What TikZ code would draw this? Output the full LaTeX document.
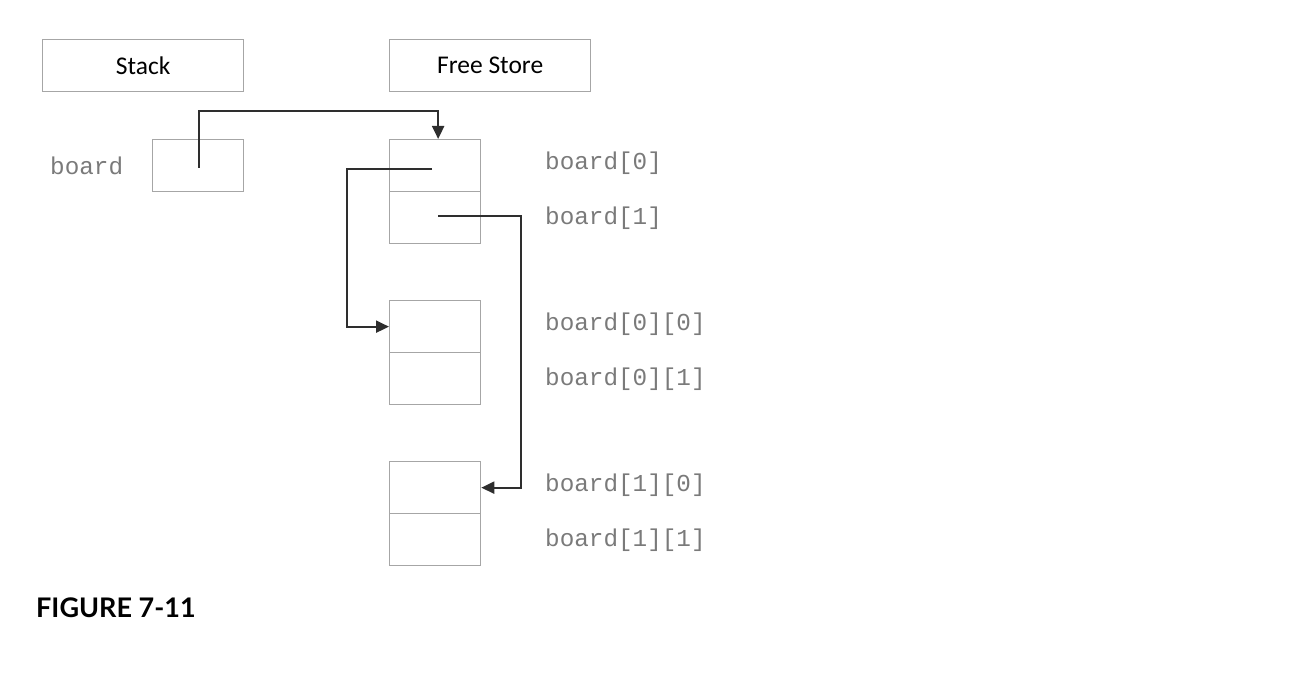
\documentclass[tikz,border=0pt]{standalone}
\usepackage{fontspec}
\setmainfont{Carlito}
\newfontfamily\monof{Liberation Mono}
\newfontfamily\figf{Lato}
\usetikzlibrary{arrows.meta}
\definecolor{boxgray}{HTML}{A6A6A6}
\definecolor{txtgray}{HTML}{7A7A7A}
\definecolor{arrgray}{HTML}{2E2E2E}
\begin{document}
\begin{tikzpicture}[x=1pt,y=-1pt,
  hdr/.style={draw=boxgray,line width=1.3pt,minimum width=201pt,minimum height=52pt,inner sep=0pt,anchor=north west,font=\fontsize{25.5}{25.5}\selectfont},
  cell/.style={draw=boxgray,line width=1.3pt,minimum width=91pt,minimum height=52pt,inner sep=0pt,anchor=north west},
  lbl/.style={anchor=west,inner sep=0pt,text=txtgray,font=\monof\fontsize{24.3}{24.3}\selectfont},
  ptr/.style={draw=arrgray,line width=2.1pt,-{Triangle[length=13pt,width=12pt]}}]
\useasboundingbox (0,0) rectangle (1293,674);
\node[hdr] (stack) at (42,39) {Stack};
\node[hdr] (free) at (389,39) {Free Store};
\node[lbl] (boardlbl) at (50,166) {board};
\node[cell] (boardbox) at (152,139) {};
\node[cell] (a0) at (389,139) {};
\node[cell] (a1) at (389,191) {};
\node[cell] (b00) at (389,300) {};
\node[cell] (b01) at (389,352) {};
\node[cell] (b10) at (389,461) {};
\node[cell] (b11) at (389,513) {};
\node[lbl] (la0) at (545,163) {board[0]};
\node[lbl] (la1) at (545,218) {board[1]};
\node[lbl] (lb00) at (545,324) {board[0][0]};
\node[lbl] (lb01) at (545,379) {board[0][1]};
\node[lbl] (lb10) at (545,485) {board[1][0]};
\node[lbl] (lb11) at (545,540) {board[1][1]};
\node[anchor=west,inner sep=0pt,font=\figf\bfseries\fontsize{27}{27}\selectfont] (fig) at (36,608) {FIGURE 7-11};
\coordinate (top) at (0,111);
\coordinate (lft) at (347,0);
\coordinate (rgt) at (521,0);
\draw[ptr] ([xshift=1pt,yshift=-2pt]boardbox.center) -- ([xshift=1pt]boardbox.center |- top) -| ([xshift=3pt]a0.north);
\draw[ptr] ([xshift=-3pt,yshift=-3pt]a0.center) -- ([yshift=-3pt]a0.center -| lft) |- (b00.west);
\draw[ptr] ([xshift=3pt,yshift=2pt]a1.center) -- ([yshift=2pt]a1.center -| rgt) |- (b10.east);
\end{tikzpicture}
\end{document}
